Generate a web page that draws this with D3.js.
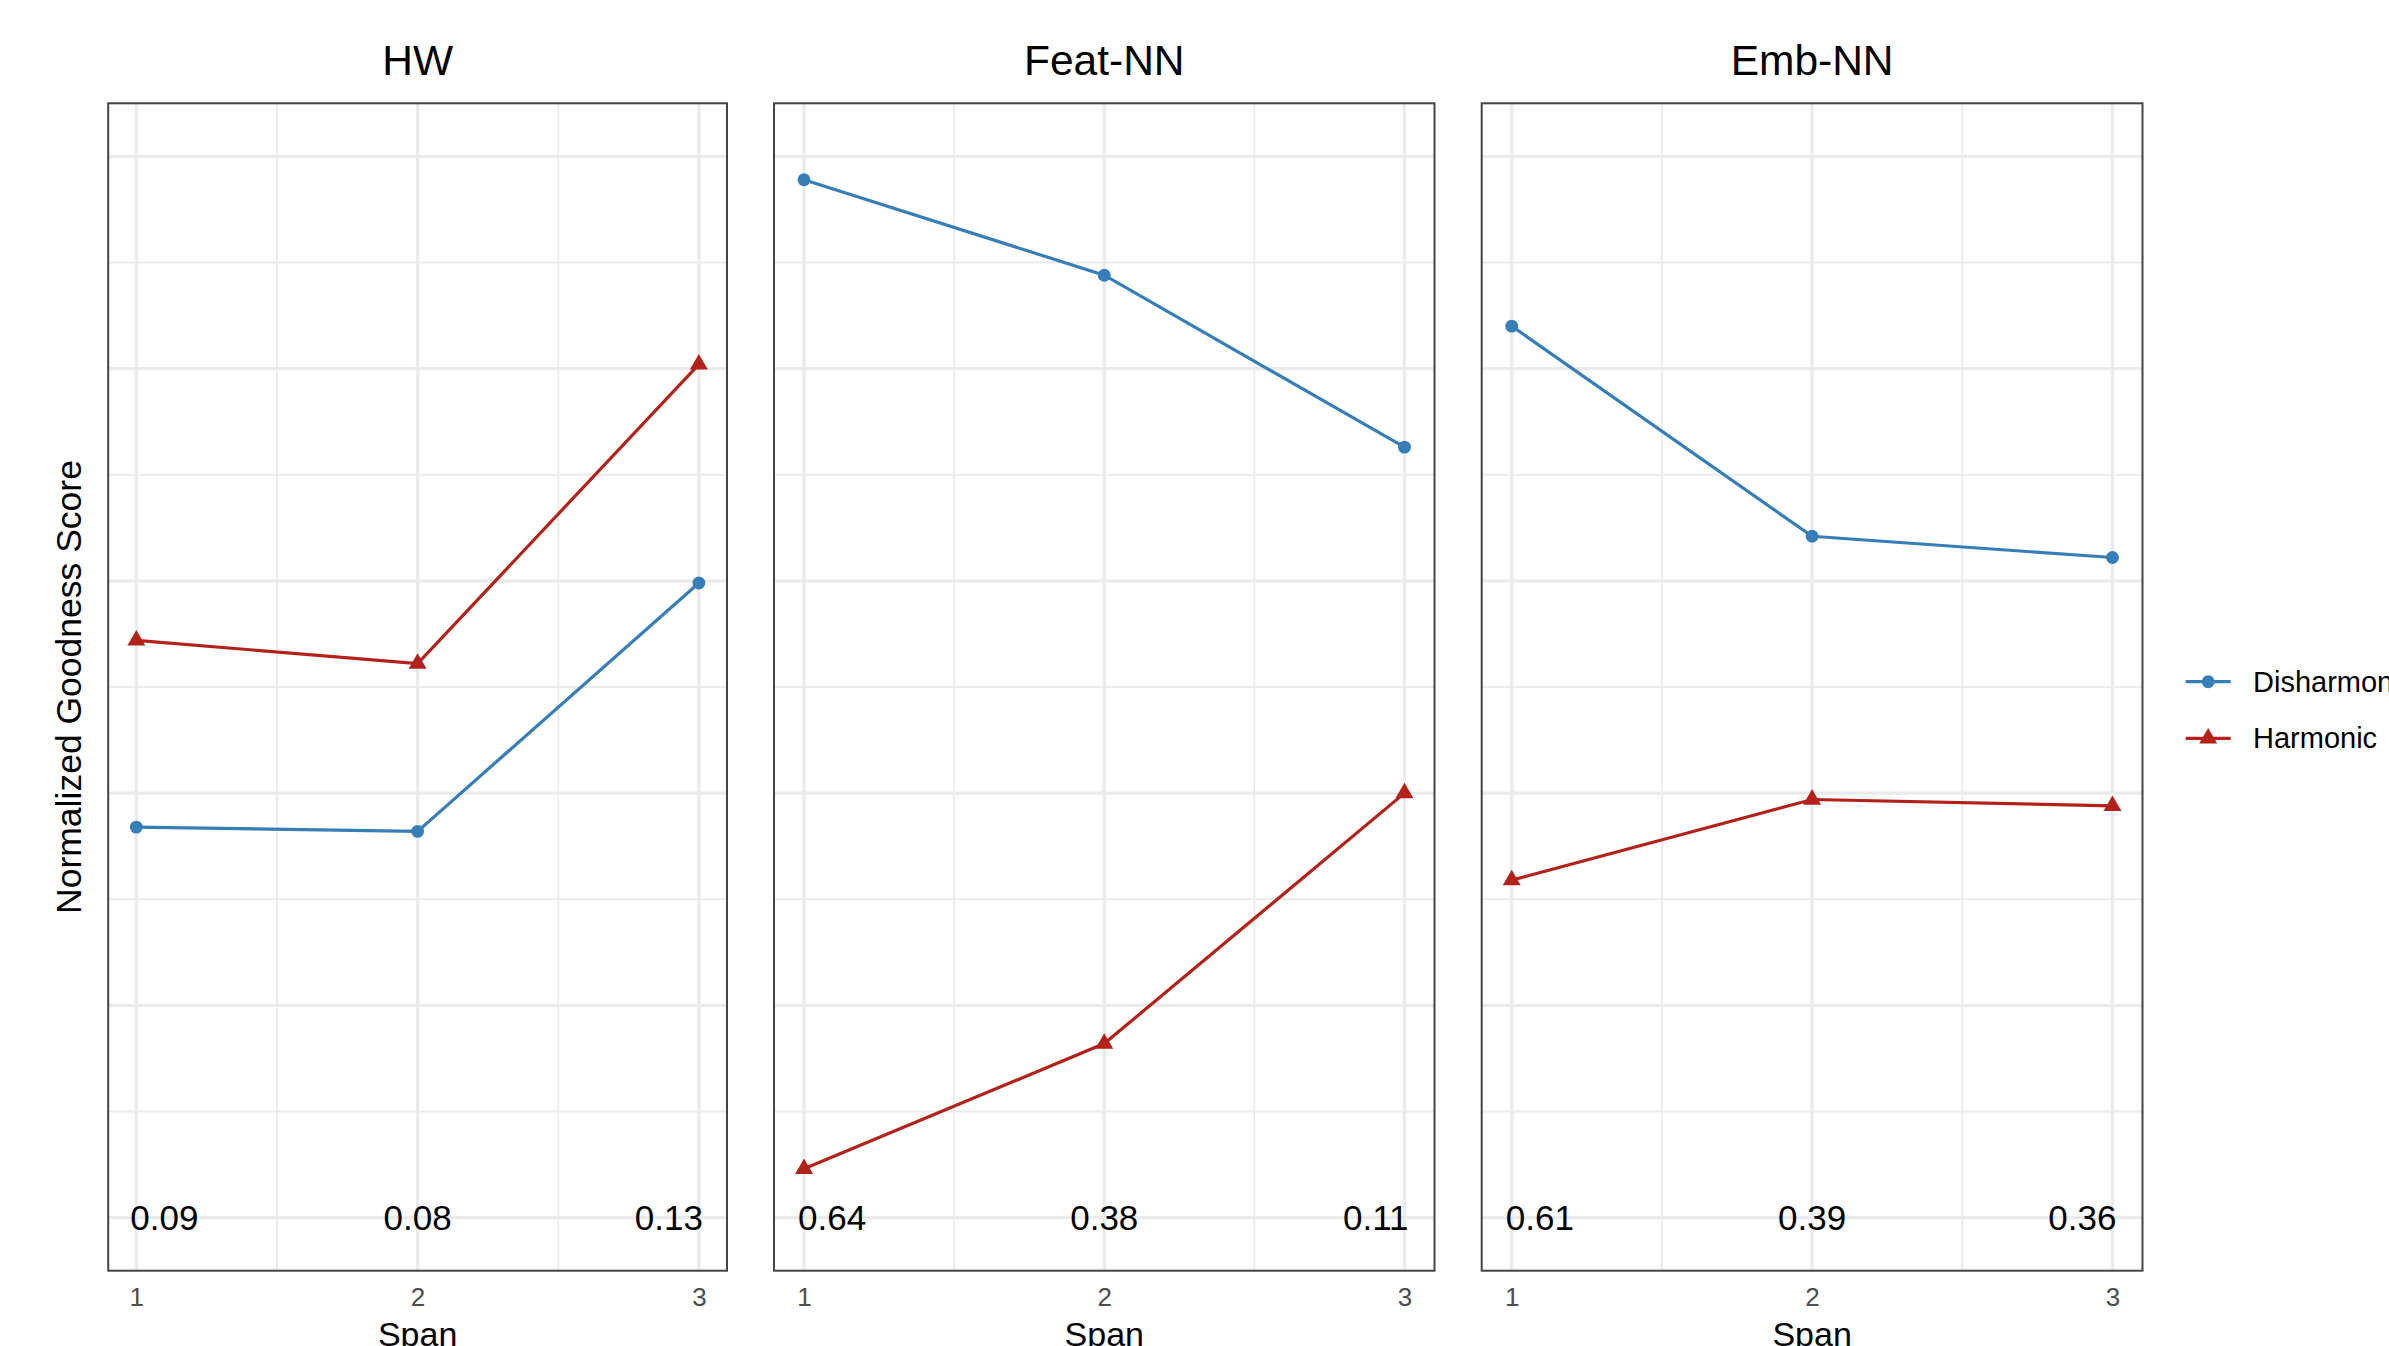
<!DOCTYPE html>
<html>
<head>
<meta charset="utf-8">
<script src="https://cdn.jsdelivr.net/npm/d3@7"></script>
<style>
  body { margin: 0; background: #fff; }
  text { font-family: "Liberation Sans", Arial, sans-serif; }
</style>
</head>
<body>
<div class="area"></div>
<script>
// data
var panels = ['HW', 'Feat-NN', 'Emb-NN'];
var spans = [1, 2, 3];
var disharmonic = [[1.84, 1.82, 2.99], [4.89, 4.44, 3.63], [4.20, 3.21, 3.11]];
var harmonic = [[2.72, 2.61, 4.02], [0.23, 0.82, 2.00], [1.59, 1.97, 1.94]];
var spanLabels = [['0.09', '0.08', '0.13'], ['0.64', '0.38', '0.11'], ['0.61', '0.39', '0.36']];
var seriesNames = ['Disharmonic', 'Harmonic'];
var yMajor = [0, 1, 2, 3, 4, 5];
var yMinor = [0.5, 1.5, 2.5, 3.5, 4.5];
var xMinor = [1.5, 2.5];

var blue = '#377EB8', red = '#B2221A';
var colors = [blue, red];

var W = 2389, H = 1346;
var top_ = 103.3, bottom = 1270.7;
// panel boxes (left, right)
var boxes = [[108.2, 727], [774, 1434.5], [1481.7, 2142.5]];

var svg = d3.select('.area')
    .append('svg')
    .attr('width', W)
    .attr('height', H)
    .style('background', '#fff');

var y = d3.scaleLinear().domain([-0.25, 5.25]).range([bottom, top_]);

var tri = d3.symbol().type(d3.symbolTriangle).size(140);
var dot = d3.symbol().type(d3.symbolCircle).size(130);

for (var p = 0; p < panels.length; p++) {
    var x = d3.scaleLinear().domain([0.9, 3.1]).range(boxes[p]);
    var g = svg.append('g');

    // grid
    yMinor.forEach(function (v) {
        g.append('line').attr('x1', boxes[p][0]).attr('x2', boxes[p][1])
            .attr('y1', y(v)).attr('y2', y(v))
            .style('stroke', '#ebebeb').style('stroke-width', 1.8);
    });
    xMinor.forEach(function (v) {
        g.append('line').attr('x1', x(v)).attr('x2', x(v))
            .attr('y1', top_).attr('y2', bottom)
            .style('stroke', '#ebebeb').style('stroke-width', 1.8);
    });
    yMajor.forEach(function (v) {
        g.append('line').attr('x1', boxes[p][0]).attr('x2', boxes[p][1])
            .attr('y1', y(v)).attr('y2', y(v))
            .style('stroke', '#ebebeb').style('stroke-width', 3.4);
    });
    spans.forEach(function (v) {
        g.append('line').attr('x1', x(v)).attr('x2', x(v))
            .attr('y1', top_).attr('y2', bottom)
            .style('stroke', '#ebebeb').style('stroke-width', 3.4);
    });

    // lines and points
    [disharmonic[p], harmonic[p]].forEach(function (vals, s) {
        var line = d3.line()
            .x(function (d, i) { return x(spans[i]); })
            .y(function (d) { return y(d); });
        g.append('path')
            .attr('d', line(vals))
            .attr('fill', 'none')
            .attr('stroke', colors[s])
            .attr('stroke-width', 3.2);
        vals.forEach(function (v, i) {
            g.append('path')
                .attr('d', s == 0 ? dot() : tri())
                .attr('transform', 'translate(' + x(spans[i]) + ',' + y(v) + ')')
                .attr('fill', colors[s]);
        });
    });

    // span score labels
    spanLabels[p].forEach(function (t, i) {
        var anchor = i == 0 ? 'start' : (i == 2 ? 'end' : 'middle');
        var dx = i == 0 ? -6 : (i == 2 ? 4 : 0);
        g.append('text')
            .attr('x', x(spans[i]) + dx)
            .attr('y', y(0))
            .attr('dy', '0.35em')
            .attr('text-anchor', anchor)
            .style('font-size', '35px')
            .attr('fill', 'black')
            .text(t);
    });

    // panel border
    g.append('rect')
        .attr('x', boxes[p][0]).attr('y', top_)
        .attr('width', boxes[p][1] - boxes[p][0])
        .attr('height', bottom - top_)
        .attr('fill', 'none')
        .attr('stroke', '#444')
        .attr('stroke-width', 2);

    // strip title
    g.append('text')
        .attr('x', (boxes[p][0] + boxes[p][1]) / 2)
        .attr('y', 75)
        .attr('text-anchor', 'middle')
        .style('font-size', '42.5px')
        .attr('fill', 'black')
        .text(panels[p]);

    // x axis
    var ax = g.append('g')
        .attr('transform', 'translate(0,' + bottom + ')')
        .call(d3.axisBottom(x).tickValues(spans).tickFormat(d3.format('d')).tickSize(0).tickPadding(17));
    ax.select('.domain').remove();
    ax.selectAll('text')
        .style('font-size', '26px')
        .style('font-family', '"Liberation Sans", Arial, sans-serif')
        .attr('fill', '#4d4d4d');

    // axis title, cut by the bottom edge as in the original
    g.append('text')
        .attr('x', (boxes[p][0] + boxes[p][1]) / 2)
        .attr('y', 1346)
        .attr('text-anchor', 'middle')
        .style('font-size', '34px')
        .attr('fill', 'black')
        .text('Span');
}

// y axis title
svg.append('text')
    .attr('transform', 'translate(81,' + ((top_ + bottom) / 2) + ') rotate(-90)')
    .attr('text-anchor', 'middle')
    .style('font-size', '35.5px')
    .attr('fill', 'black')
    .text('Normalized Goodness Score');

// legend
var legendY = [681.7, 738.3];
for (var s = 0; s < seriesNames.length; s++) {
    svg.append('line')
        .attr('x1', 2185.7).attr('x2', 2230.7)
        .attr('y1', legendY[s]).attr('y2', legendY[s])
        .style('stroke', colors[s]).style('stroke-width', 3.2);
    svg.append('path')
        .attr('d', s == 0 ? dot() : tri())
        .attr('transform', 'translate(2208.2,' + legendY[s] + ')')
        .attr('fill', colors[s]);
    svg.append('text')
        .attr('x', 2253)
        .attr('y', legendY[s])
        .attr('dy', '0.35em')
        .style('font-size', '29px')
        .attr('fill', 'black')
        .text(seriesNames[s]);
}
</script>
</body>
</html>
